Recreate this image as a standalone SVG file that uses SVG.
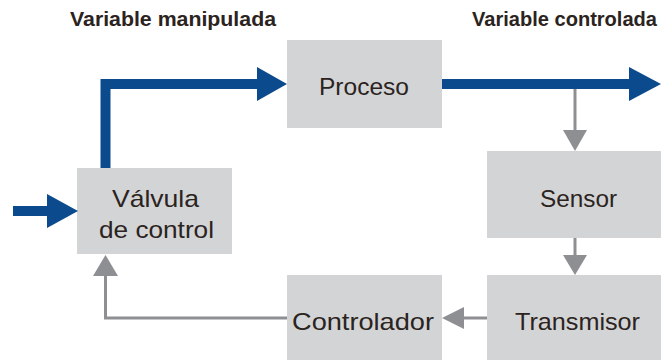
<svg xmlns="http://www.w3.org/2000/svg" width="668" height="360" viewBox="0 0 668 360">
<style>
.box{fill:#d3d4d6}
.lbl{font-family:"Liberation Sans",Arial,sans-serif;font-size:24px;fill:#2b2320}
.hdr{font-family:"Liberation Sans",Arial,sans-serif;font-size:19.5px;font-weight:bold;fill:#2b2320}
.blue{stroke:#0b4a8c;stroke-width:10;fill:none}
.bhead{fill:#0b4a8c}
.gray{stroke:#8e8f93;stroke-width:3;fill:none}
.ghead{fill:#8e8f93}
</style>
<rect width="668" height="360" fill="#ffffff"/>
<text class="hdr" x="70" y="26" textLength="206" lengthAdjust="spacingAndGlyphs">Variable manipulada</text>
<text class="hdr" x="472" y="26" textLength="185" lengthAdjust="spacingAndGlyphs">Variable controlada</text>
<g id="proceso"><rect class="box" x="287" y="40" width="155" height="88"/><text class="lbl" x="319" y="95" textLength="90" lengthAdjust="spacingAndGlyphs">Proceso</text></g>
<g id="valvula"><rect class="box" x="77" y="168" width="155" height="86"/><text class="lbl" x="112" y="207" textLength="87" lengthAdjust="spacingAndGlyphs">Válvula</text><text class="lbl" x="99" y="238" textLength="115" lengthAdjust="spacingAndGlyphs">de control</text></g>
<g id="sensor"><rect class="box" x="487" y="151" width="174" height="87"/><text class="lbl" x="540" y="207" textLength="77" lengthAdjust="spacingAndGlyphs">Sensor</text></g>
<g id="transmisor"><rect class="box" x="487" y="275" width="174" height="90"/><text class="lbl" x="515" y="330" textLength="125" lengthAdjust="spacingAndGlyphs">Transmisor</text></g>
<g id="controlador"><rect class="box" x="287" y="275" width="155" height="90"/><text class="lbl" x="292" y="330" textLength="142" lengthAdjust="spacingAndGlyphs">Controlador</text></g>
<g id="connectors">
<path class="blue" d="M13 211 H48"/>
<polygon class="bhead" points="47,194 78,211 47,228"/>
<path class="blue" d="M105.5 168 V84 H258"/>
<polygon class="bhead" points="257,67 287,84 257,101"/>
<path class="blue" d="M442 84 H630"/>
<polygon class="bhead" points="629,67 661,84 629,101"/>
<path class="gray" d="M575 89 V131"/>
<polygon class="ghead" points="563,130 587,130 575,151"/>
<path class="gray" d="M575 238 V256"/>
<polygon class="ghead" points="563,255 587,255 575,275"/>
<path class="gray" d="M487 318 H463"/>
<polygon class="ghead" points="464,307 464,329 442,318"/>
<path class="gray" d="M287 318 H105.5 V275"/>
<polygon class="ghead" points="93,276 118,276 105.5,255"/>
</g>
</svg>
